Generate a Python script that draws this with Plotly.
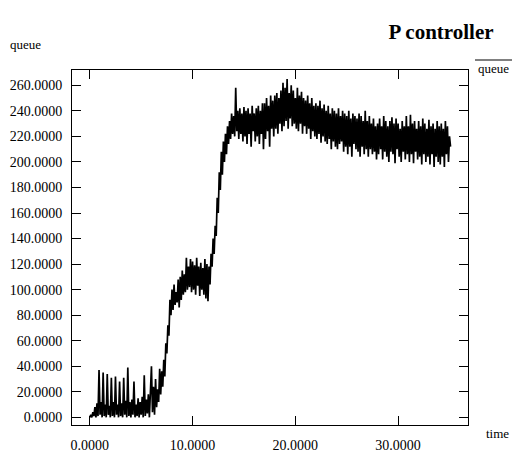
import plotly.graph_objects as go

# sampled queue length, one value every 0.1 time units starting at t = 0
t_start = 0.0
t_step = 0.1
queue = [
    0, 2, 0, 4, 1, 8, 0, 11, 1, 37,
    2, 12, 0, 35, 1, 10, 0, 34, 2, 9,
    0, 31, 1, 12, 0, 32, 2, 10, 0, 28,
    1, 11, 0, 31, 2, 13, 0, 39, 1, 12,
    0, 14, 2, 28, 0, 10, 1, 15, 0, 12,
    2, 16, 0, 33, 1, 14, 3, 18, 0, 22,
    40, 4, 24, 2, 30, 8, 22, 12, 38, 18,
    36, 24, 45, 32, 58, 50, 72, 64, 92, 80,
    100, 84, 104, 88, 98, 90, 108, 86, 110, 92,
    115, 96, 112, 98, 125, 100, 118, 102, 124, 98,
    122, 100, 119, 96, 125, 103, 118, 95, 121, 100,
    117, 96, 124, 93, 120, 91, 118, 104, 128, 118,
    140, 128, 150, 142, 172, 160, 192, 178, 208, 190,
    216, 200, 222, 206, 228, 214, 232, 218, 238, 222,
    236, 220, 258, 224, 240, 218, 242, 222, 238, 216,
    243, 220, 240, 214, 242, 222, 238, 212, 244, 224,
    238, 216, 242, 220, 244, 214, 240, 222, 246, 210,
    246, 218, 250, 224, 244, 212, 252, 226, 248, 220,
    252, 226, 254, 222, 250, 230, 256, 224, 262, 228,
    258, 232, 265, 226, 254, 234, 260, 228, 256, 230,
    250, 226, 258, 224, 252, 230, 255, 222, 250, 228,
    248, 222, 252, 226, 246, 218, 250, 224, 244, 220,
    246, 218, 244, 222, 248, 215, 242, 220, 245, 216,
    240, 214, 244, 218, 238, 210, 242, 216, 240, 212,
    238, 210, 242, 214, 236, 216, 240, 208, 238, 212,
    236, 206, 240, 212, 234, 204, 238, 214, 236, 210,
    234, 208, 238, 204, 236, 212, 232, 206, 240, 210,
    232, 204, 236, 210, 230, 206, 234, 208, 228, 202,
    230, 206, 234, 210, 228, 202, 236, 208, 232, 204,
    228, 200, 232, 208, 235, 206, 230, 199, 234, 210,
    230, 204, 226, 200, 232, 208, 228, 202, 236, 206,
    228, 200, 237, 206, 230, 199, 232, 208, 226, 202,
    232, 204, 228, 198, 234, 206, 230, 200, 226, 204,
    233, 198, 228, 206, 230, 196, 226, 204, 232, 200,
    228, 198, 230, 204, 226, 196, 232, 206, 228, 200,
    220, 212,
]

x_ticks = [0, 10, 20, 30]
x_tick_text = ["0.0000", "10.0000", "20.0000", "30.0000"]
y_ticks = list(range(0, 261, 20))
y_tick_text = ["%.4f" % v for v in y_ticks]

SERIF = "Liberation Serif, Times New Roman, serif"

fig = go.Figure()
fig.add_trace(go.Scatter(
    x0=t_start, dx=t_step, y=queue, mode="lines",
    line=dict(color="black", width=1.7), name="queue", showlegend=False,
))

W, H = 517, 454
L, R, T, B = 72, 49, 70, 29
PW, PH = W - L - R, H - T - B


def px(x):
    return (x - L) / PW


def py(y):
    return (H - B - y) / PH


fig.update_layout(
    width=W, height=H,
    margin=dict(l=L, r=R, t=T, b=B, autoexpand=False),
    paper_bgcolor="white", plot_bgcolor="white",
    font=dict(family=SERIF, size=14, color="black"),
    title=dict(text="<b>P controller</b>", font=dict(family=SERIF, size=21, color="black"),
               xref="container", yref="container", x=441 / W, y=1 - 32 / H,
               xanchor="center", yanchor="middle"),
    xaxis=dict(range=[-1.73, 36.8], tickvals=x_ticks, ticktext=x_tick_text,
               ticks="inside", ticklen=9, tickcolor="black", showline=True,
               linecolor="black", linewidth=1, mirror="ticks", showgrid=False,
               zeroline=False, ticklabelstandoff=7, automargin=False,
               tickfont=dict(family=SERIF, size=14, color="black")),
    yaxis=dict(range=[-6.0, 272.0], tickvals=y_ticks, ticktext=y_tick_text,
               ticks="inside", ticklen=9, tickcolor="black", showline=True,
               linecolor="black", linewidth=1, mirror="ticks", showgrid=False,
               zeroline=False, ticklabelstandoff=6, automargin=False,
               tickfont=dict(family=SERIF, size=14, color="black")),
    annotations=[
        dict(text="queue", xref="paper", yref="paper",
             x=px(25), y=py(44),
             xanchor="center", yanchor="middle", showarrow=False,
             font=dict(family=SERIF, size=13, color="black")),
        dict(text="queue", xref="paper", yref="paper",
             x=px(493), y=py(68),
             xanchor="center", yanchor="middle", showarrow=False,
             font=dict(family=SERIF, size=13, color="black")),
        dict(text="time", xref="paper", yref="paper",
             x=px(497), y=py(433),
             xanchor="center", yanchor="middle", showarrow=False,
             font=dict(family=SERIF, size=13, color="black")),
    ],
    shapes=[
        dict(type="line", xref="paper", yref="paper",
             x0=px(475), x1=px(512), y0=py(60), y1=py(60),
             line=dict(color="black", width=1)),
    ],
)

fig.write_html("out.html")
